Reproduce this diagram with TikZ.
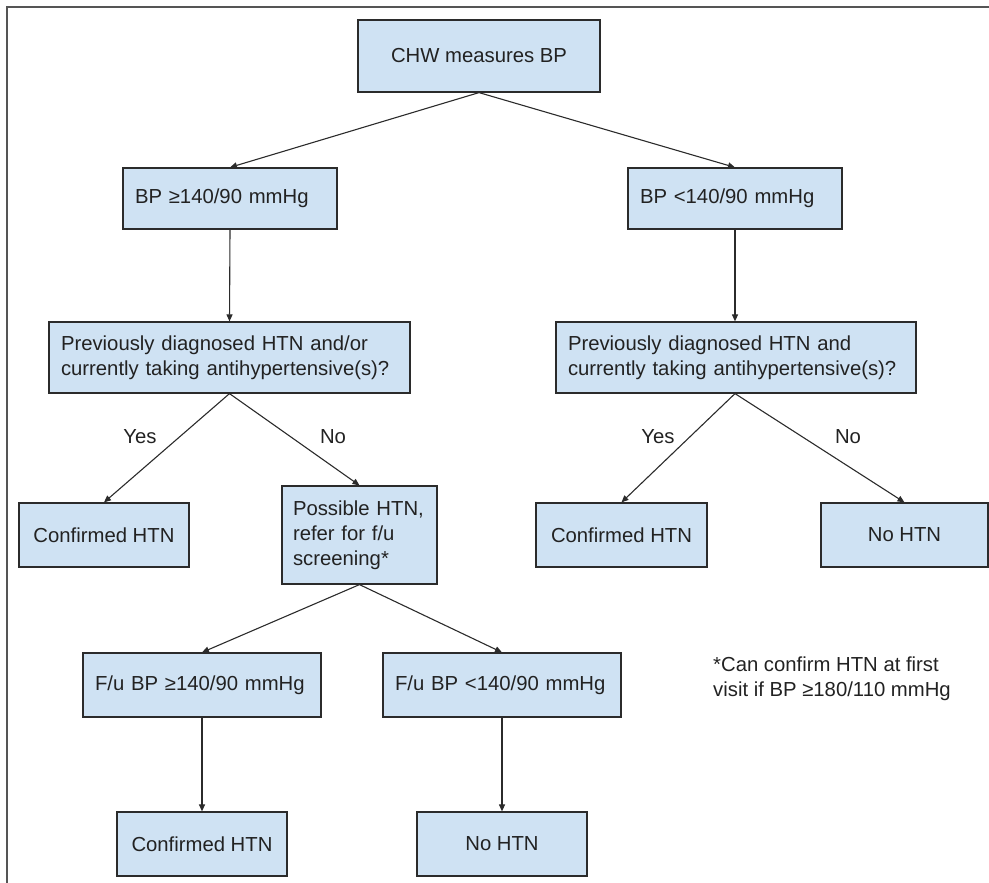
\documentclass[tikz,border=0pt]{standalone}
\usepackage{fontspec}
\setmainfont{Liberation Sans}
\usetikzlibrary{arrows.meta}
\definecolor{boxfill}{HTML}{CFE2F3}
\definecolor{boxline}{HTML}{2B2B2B}
\definecolor{txt}{HTML}{222222}
\definecolor{framecol}{HTML}{555555}
\begin{document}
\begin{tikzpicture}[x=1pt,y=-1pt,
  every node/.style={text=txt, font=\fontsize{20.3}{25}\selectfont},
  boxbase/.style={draw=boxline, fill=boxfill, line width=1.2pt, inner ysep=0pt},
  cbox/.style n args={2}{boxbase, minimum width=#1, minimum height=#2, align=center, inner xsep=0pt},
  lbox/.style n args={2}{boxbase, text width=#1, minimum height=#2, align=left, inner xsep=12pt},
  lab/.style={inner sep=0pt},
  conn/.style={draw=boxline, line width=1.1pt, -{Triangle[length=7pt,width=6pt]}}
]
\useasboundingbox (0,0) rectangle (989,883);
\draw[framecol, line width=1.6pt] (7,883) -- (7,7) -- (989,7);

\node[cbox={242pt}{72pt}] (chw) at (479,56) {CHW measures BP};
\node[lbox={190pt}{61pt}] (bphi) at (230,198.5) {BP ≥140/90 mmHg};
\node[lbox={190pt}{61pt}] (bplo) at (735,198.5) {BP <140/90 mmHg};
\node[lbox={337pt}{71pt}] (prevL) at (229.5,357.5) {Previously diagnosed HTN and/or\\currently taking antihypertensive(s)?};
\node[lbox={336pt}{71pt}] (prevR) at (736,357.5) {Previously diagnosed HTN and\\currently taking antihypertensive(s)?};
\node[cbox={170pt}{64pt}] (confL) at (104,535) {Confirmed HTN};
\node[boxbase, text width=133pt, inner xsep=11pt, minimum height=98pt, align=left] (poss) at (359.5,535) {Possible HTN,\\refer for f/u\\screening*};
\node[cbox={171pt}{64pt}] (confR) at (621.5,535) {Confirmed HTN};
\node[cbox={167pt}{64pt}] (noR) at (904.5,535) {No HTN};
\node[lbox={214pt}{64pt}] (fuhi) at (202,685) {F/u BP ≥140/90 mmHg};
\node[lbox={214pt}{64pt}] (fulo) at (502,685) {F/u BP <140/90 mmHg};
\node[cbox={170pt}{64pt}] (confB) at (202,844) {Confirmed HTN};
\node[cbox={170pt}{64pt}] (noB) at (502,844) {No HTN};
\node[anchor=west, align=left, inner sep=0pt] (note) at (713,678.5) {*Can confirm HTN at first\\visit if BP ≥180/110 mmHg};

\node[lab] (yesL) at (140,437) {Yes};
\node[lab] (noL) at (333,437) {No};
\node[lab] (yesR) at (658,437) {Yes};
\node[lab] (noRl) at (848,437) {No};

\draw[conn] (chw.south) -- (bphi.north);
\draw[conn] (chw.south) -- (bplo.north);
\draw[conn] (bphi.south) -- (prevL.north);
\draw[conn] (bplo.south) -- (bplo.south |- prevR.north);
\draw[conn] (prevL.south) -- (confL.north);
\draw[conn] (prevL.south) -- (poss.north);
\draw[conn] (bplo.south |- prevR.south) -- (confR.north);
\draw[conn] (bplo.south |- prevR.south) -- (noR.north);
\draw[conn] (poss.south) -- (fuhi.north);
\draw[conn] (poss.south) -- (fulo.north);
\draw[conn] (fuhi.south) -- (confB.north);
\draw[conn] (fulo.south) -- (noB.north);
\end{tikzpicture}
\end{document}
